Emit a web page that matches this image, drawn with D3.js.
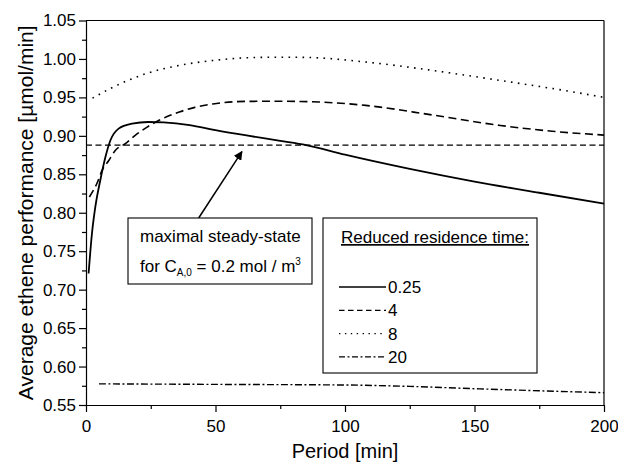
<!DOCTYPE html>
<html>
<head>
<meta charset="utf-8">
<script src="https://cdn.jsdelivr.net/npm/d3@7"></script>
<style>
  body { margin: 0; background: #fff; }
  svg { display: block; font-family: "Liberation Sans", Arial, sans-serif; }
  .axis path, .axis line { stroke: #000; stroke-width: 1.2; }
  .axis text { font-size: 17px; fill: #000; }
</style>
</head>
<body>
<div id="chart"></div>
<script>
// Reduced residence time 0.25
const period025 = [1, 2.3, 3.6, 5.5, 7.5, 9.4, 12.6, 17.8, 24, 30, 40, 50, 62, 75, 85, 100, 125, 150, 175, 200];
const value025  = [0.721, 0.773, 0.8075, 0.842, 0.8725, 0.894, 0.9094, 0.9158, 0.918, 0.9175, 0.914, 0.9075, 0.9005, 0.8935, 0.888, 0.8755, 0.857, 0.8405, 0.826, 0.812];

// Reduced residence time 4
const period4 = [1.3, 4.2, 6.2, 8.8, 11.3, 15.2, 19, 23.6, 27, 32, 36, 42, 49, 62, 75, 90, 108, 134, 160, 180, 200];
const value4  = [0.8205, 0.838, 0.855, 0.868, 0.881, 0.8898, 0.9006, 0.9114, 0.918, 0.926, 0.931, 0.937, 0.9415, 0.9448, 0.945, 0.944, 0.9396, 0.927, 0.9135, 0.906, 0.901];

// Reduced residence time 8
const period8 = [2.5, 10.5, 23, 36, 49, 62, 75, 85, 108, 134, 160, 190, 200];
const value8  = [0.949, 0.9634, 0.9807, 0.9916, 0.998, 1.0015, 1.0023, 1.002, 0.996, 0.985, 0.972, 0.956, 0.950];

// Reduced residence time 20
const period20 = [5, 50, 100, 125, 150, 175, 200];
const value20  = [0.5775, 0.5768, 0.576, 0.5742, 0.5712, 0.5685, 0.566];

// maximal steady-state level
const steadyPeriod = [0, 200];
const steadyValue = 0.888;

const legendLabels = ["0.25", "4", "8", "20"];
const xTicks = [0, 50, 100, 150, 200];
const yTicks = [0.55, 0.60, 0.65, 0.70, 0.75, 0.80, 0.85, 0.90, 0.95, 1.00, 1.05];

const W = 618, H = 468;
const margin = { top: 20.5, right: 14, bottom: 63, left: 86 };

const x = d3.scaleLinear().domain([0, 200]).range([margin.left, W - margin.right]);
const y = d3.scaleLinear().domain([0.55, 1.05]).range([H - margin.bottom, margin.top]);

const svg = d3.select("#chart").append("svg")
  .attr("width", W)
  .attr("height", H);

const series = [
  { label: legendLabels[0], p: period025, v: value025, dash: null, width: 1.8, legendDash: null },
  { label: legendLabels[1], p: period4, v: value4, dash: "8,4.5", width: 1.6, legendDash: "5.5,3.5" },
  { label: legendLabels[2], p: period8, v: value8, dash: "1.6,5.4", width: 1.6, legendDash: "1.4,4.5" },
  { label: legendLabels[3], p: period20, v: value20, dash: "7,2.5,2,2.5", width: 1.4, legendDash: "6,2.5,2,2.5" }
];

const line = d3.line()
  .x(d => x(d[0]))
  .y(d => y(d[1]))
  .curve(d3.curveMonotoneX);

// frame (top and right)
svg.append("line")
  .attr("x1", x(0)).attr("x2", x(200))
  .attr("y1", y(1.05)).attr("y2", y(1.05))
  .attr("stroke", "#000").attr("stroke-width", 1.2);
svg.append("line")
  .attr("x1", x(200)).attr("x2", x(200))
  .attr("y1", y(1.05)).attr("y2", y(0.55))
  .attr("stroke", "#000").attr("stroke-width", 1.2);

// minor ticks
svg.append("g")
  .attr("class", "axis")
  .attr("transform", `translate(0,${y(0.55)})`)
  .call(d3.axisBottom(x).tickValues(d3.range(25, 200, 50)).tickSize(4).tickFormat(""))
  .select(".domain").remove();
svg.append("g")
  .attr("class", "axis")
  .attr("transform", `translate(${x(0)},0)`)
  .call(d3.axisLeft(y).tickValues(d3.range(0.575, 1.05, 0.05)).tickSize(4).tickFormat(""))
  .select(".domain").remove();

// major axes
svg.append("g")
  .attr("class", "axis")
  .attr("transform", `translate(0,${y(0.55)})`)
  .call(d3.axisBottom(x).tickValues(xTicks).tickSize(7).tickSizeOuter(0).tickPadding(8).tickFormat(d3.format("d")));

svg.append("g")
  .attr("class", "axis")
  .attr("transform", `translate(${x(0)},0)`)
  .call(d3.axisLeft(y).tickValues(yTicks).tickSize(7).tickSizeOuter(0).tickPadding(3).tickFormat(d3.format(".2f")));

// axis titles
svg.append("text")
  .attr("x", (x(0) + x(200)) / 2)
  .attr("y", 458)
  .attr("text-anchor", "middle")
  .attr("font-size", 20)
  .text("Period [min]");

svg.append("text")
  .attr("transform", `translate(33,${(y(0.55) + y(1.05)) / 2}) rotate(-90)`)
  .attr("text-anchor", "middle")
  .attr("font-size", 21)
  .text("Average ethene performance [\u00b5mol/min]");

// steady-state line
svg.append("path")
  .datum(steadyPeriod.map(p => [p, steadyValue]))
  .attr("d", line)
  .attr("fill", "none")
  .attr("stroke", "#000")
  .attr("stroke-width", 1.4)
  .attr("stroke-dasharray", "6,3.5");

// curves
series.forEach(s => {
  svg.append("path")
    .datum(s.p.map((p, i) => [p, s.v[i]]))
    .attr("d", line)
    .attr("fill", "none")
    .attr("stroke", "#000")
    .attr("stroke-width", s.width)
    .attr("stroke-dasharray", s.dash);
});

// annotation box with arrow
svg.append("defs").append("marker")
  .attr("id", "arrow")
  .attr("viewBox", "0 0 10 10")
  .attr("refX", 9).attr("refY", 5)
  .attr("markerWidth", 9).attr("markerHeight", 9)
  .attr("markerUnits", "userSpaceOnUse")
  .attr("orient", "auto")
  .append("path")
  .attr("d", "M0,0 L10,5 L0,10 z")
  .attr("fill", "#000");

const note = { left: 128, top: 218, width: 184, height: 66 };
svg.append("line")
  .attr("x1", x(43.5)).attr("y1", note.top)
  .attr("x2", x(60.2)).attr("y2", y(0.8795))
  .attr("stroke", "#000")
  .attr("stroke-width", 1.5)
  .attr("marker-end", "url(#arrow)");

svg.append("rect")
  .attr("x", note.left).attr("y", note.top)
  .attr("width", note.width).attr("height", note.height)
  .attr("fill", "#fff").attr("stroke", "#000").attr("stroke-width", 1.1);

svg.append("text")
  .attr("x", note.left + 12).attr("y", note.top + 24)
  .attr("font-size", 17)
  .text("maximal steady-state");

const t2 = svg.append("text")
  .attr("x", note.left + 12).attr("y", note.top + 54)
  .attr("font-size", 17);
t2.append("tspan").text("for C");
t2.append("tspan").attr("font-size", 10).attr("dy", 4).text("A,0");
t2.append("tspan").attr("dy", -4).text(" = 0.2 mol / m");
t2.append("tspan").attr("font-size", 10).attr("dy", -7).text("3");

// legend
const leg = { left: 323, top: 218, width: 214, height: 155 };
const legend = svg.append("g").attr("transform", `translate(${leg.left},${leg.top})`);

legend.append("rect")
  .attr("width", leg.width).attr("height", leg.height)
  .attr("fill", "#fff").attr("stroke", "#000").attr("stroke-width", 1.1);

legend.append("text")
  .attr("x", 18).attr("y", 25)
  .attr("font-size", 17)
  .attr("text-decoration", "underline")
  .text("Reduced residence time:");

series.forEach((s, i) => {
  const row = legend.append("g").attr("transform", `translate(16,${69 + i * 23.3})`);
  row.append("line")
    .attr("x1", 0).attr("x2", 47)
    .attr("stroke", "#000")
    .attr("stroke-width", s.width * 0.8)
    .attr("stroke-dasharray", s.legendDash);
  row.append("text")
    .attr("x", 49).attr("y", 6)
    .attr("font-size", 17)
    .text(s.label);
});
</script>
</body>
</html>
